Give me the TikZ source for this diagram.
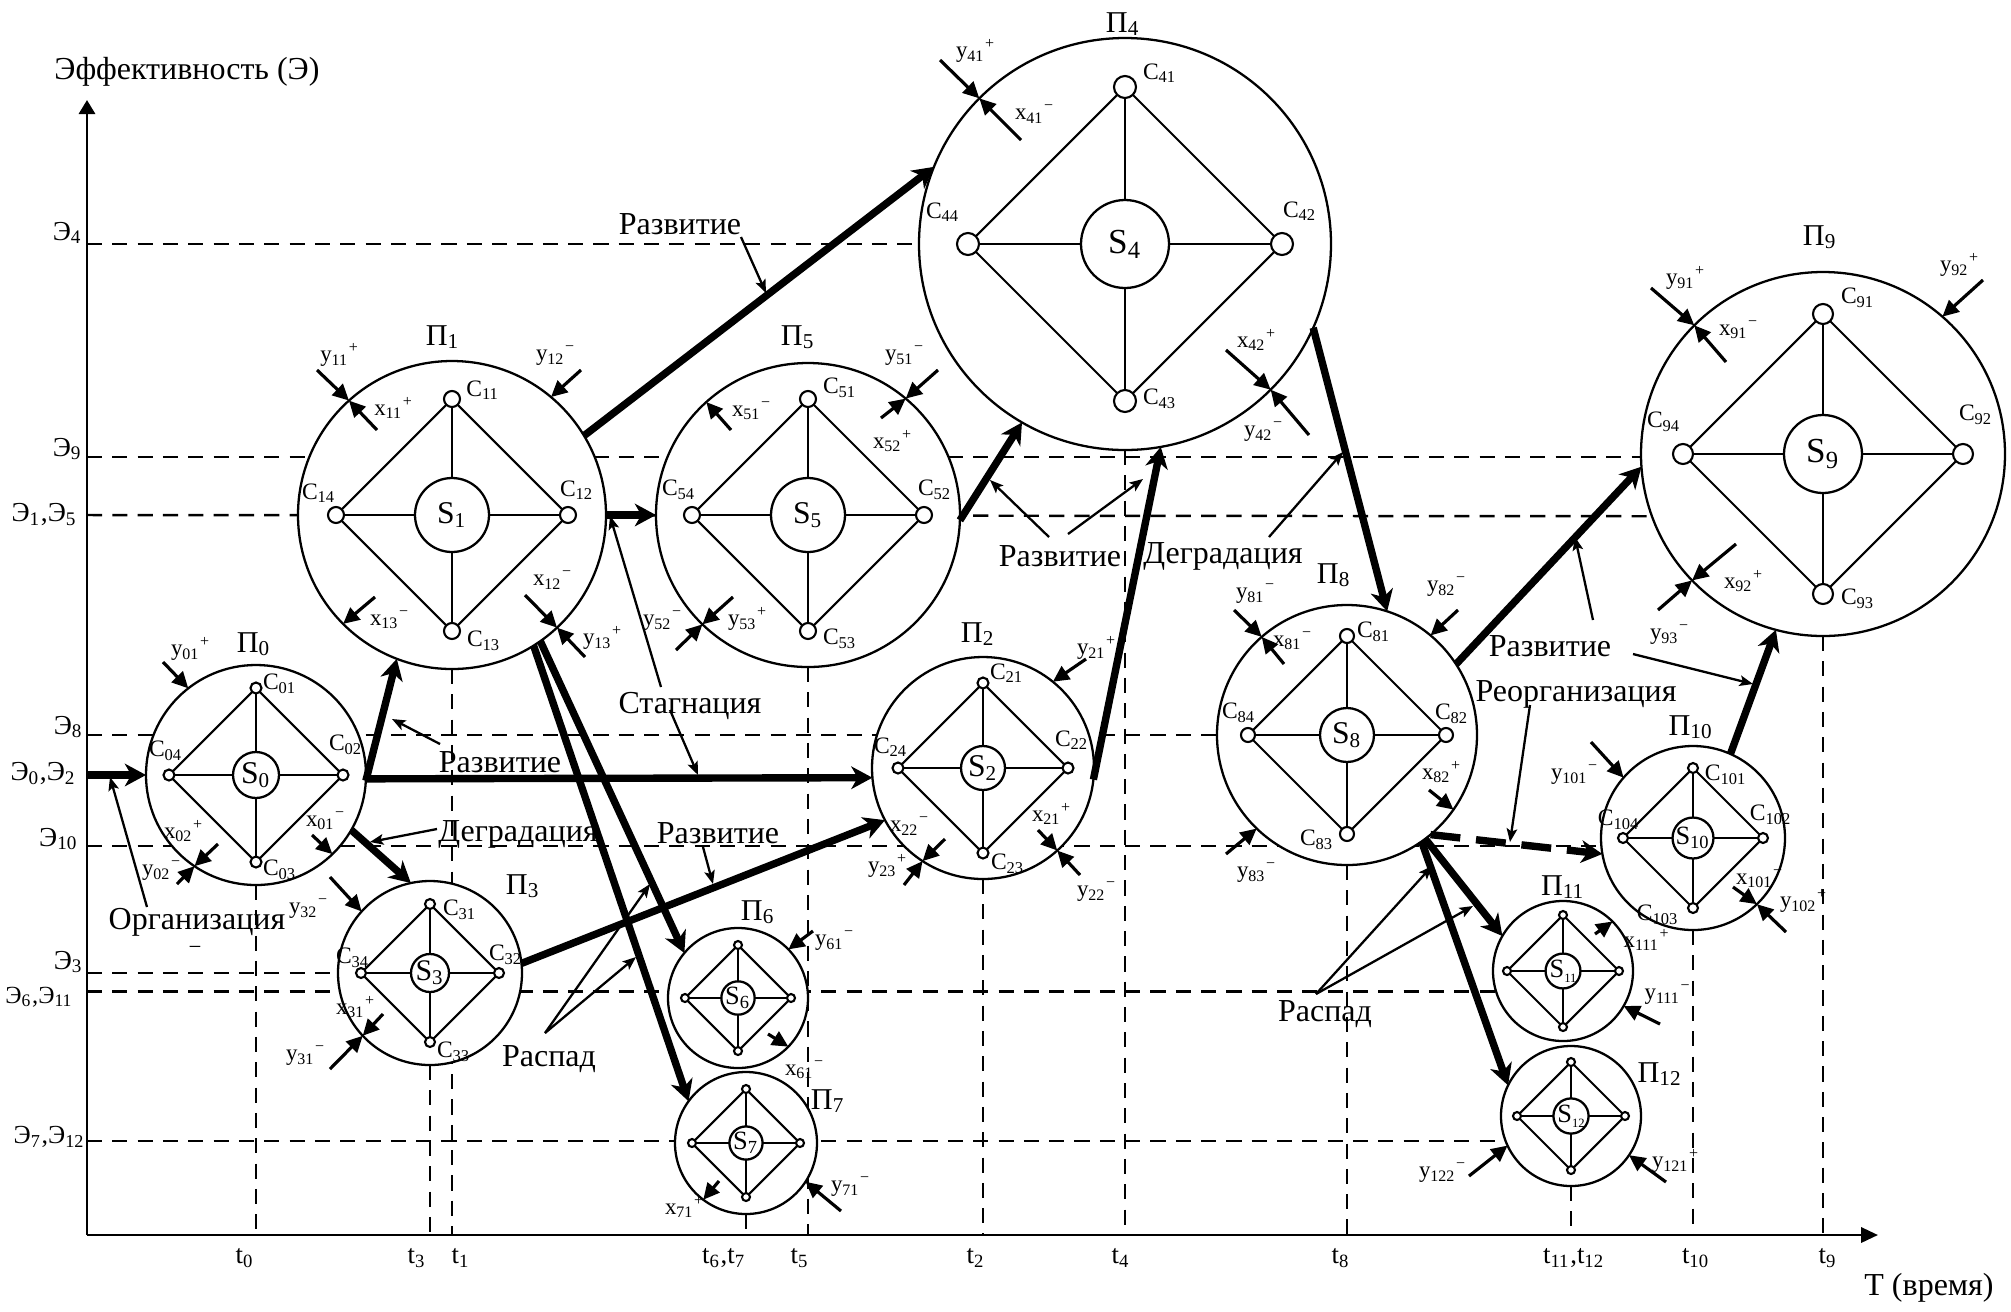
\documentclass[tikz,border=0pt]{standalone}
\usepackage{fontspec}
\setmainfont{Liberation Serif}
\usetikzlibrary{arrows.meta,backgrounds}
\newcommand\yx[3]{#1\textsubscript{#2}\textsuperscript{#3}}
\newcommand\tsub[1]{\raisebox{-0.4ex}{\fontsize{3.6}{4}\selectfont #1}}
\newcommand\psys[9]{%
  \node[pcirc,minimum size={2*#4*0.01cm}] (#1) at (#2,#3) {};
  \node[scirc,minimum size={2*#6*0.01cm},font={\fontsize{#9}{#9}\selectfont}] (#1s) at (#2,#3) {#8};
  \node[ncirc,minimum size={2*#7*0.01cm}] (#1a) at (#2,{#3-#5}) {};
  \node[ncirc,minimum size={2*#7*0.01cm}] (#1b) at ({#2+#5},#3) {};
  \node[ncirc,minimum size={2*#7*0.01cm}] (#1c) at (#2,{#3+#5}) {};
  \node[ncirc,minimum size={2*#7*0.01cm}] (#1d) at ({#2-#5},#3) {};
  \draw[thinl] (#1a) -- (#1b) -- (#1c) -- (#1d) -- (#1a);
  \draw[thinl] (#1a) -- (#1s) -- (#1c);
  \draw[thinl] (#1b) -- (#1s) -- (#1d);
}
\newcommand\ioa[3]{\coordinate (io#1) at (#2); \draw[ioarr] (io#1) -- (#3);}
\newcommand\pnt[3]{\coordinate (pa#1) at (#2); \coordinate (pb#1) at (#3); \draw[ptra] (pa#1) -- (pb#1);}
\begin{document}
\begin{tikzpicture}[x=0.01cm,y=-0.01cm,
  pcirc/.style={circle,draw,fill=white,line width=0.65pt,inner sep=0pt,outer sep=0pt},
  scirc/.style={circle,draw,fill=white,line width=0.65pt,inner sep=0pt,outer sep=0pt},
  ncirc/.style={circle,draw,fill=white,line width=0.6pt,inner sep=0pt,outer sep=0pt},
  thinl/.style={line width=0.6pt},
  grid/.style={line width=0.7pt,dash pattern=on 4.3pt off 2.9pt},
  axisl/.style={line width=0.8pt},
  trans/.style={line width=2.1pt,-{Stealth[length=6pt,width=6.4pt,inset=1.8pt]}},
  transd/.style={line width=2.1pt,dash pattern=on 8.5pt off 4.5pt,-{Stealth[length=6pt,width=6.4pt,inset=1.8pt]}},
  ptra/.style={line width=0.65pt,-{Stealth[length=3.8pt,width=3pt,inset=0.8pt]}},
  ioarr/.style={line width=0.9pt,-{Triangle[length=4.6pt,width=4.4pt]}},
  lab/.style={font=\fontsize{9.1}{11}\selectfont,inner sep=0pt},
  elab/.style={font=\fontsize{7.8}{9}\selectfont,inner sep=0pt},
  tlab/.style={font=\fontsize{7.6}{9}\selectfont,inner sep=0pt},
  plab/.style={font=\fontsize{8.6}{10}\selectfont,inner sep=0pt},
  clab/.style={font=\fontsize{6.7}{8}\selectfont,inner sep=0pt},
  xlab/.style={font=\fontsize{6.5}{8}\selectfont,inner sep=0pt},
]
\useasboundingbox (0,0) rectangle (2011,1311);

% ---------- systems ----------
\psys{P0}{256}{775}{110}{87}{23}{5.5}{S\textsubscript{0}}{9}
\psys{P1}{452}{515}{154}{116}{37}{8}{S\textsubscript{1}}{9}
\psys{P5}{808}{515}{152}{116}{37}{8}{S\textsubscript{5}}{9}
\psys{P4}{1125}{244}{206}{157}{44}{11}{S\textsubscript{4}}{10}
\psys{P9}{1823}{454}{182}{140}{39}{10}{S\textsubscript{9}}{10}
\psys{P2}{983}{768}{111}{85}{22}{5.5}{S\textsubscript{2}}{9}
\psys{P3}{430}{973}{92}{69}{19}{5}{S\textsubscript{3}}{8.5}
\psys{P6}{738}{998}{70}{53}{14}{4}{S\textsubscript{6}}{7.5}
\psys{P7}{746}{1143}{71}{54}{15}{4}{S\textsubscript{7}}{7.5}
\psys{P8}{1347}{735}{130}{99}{27}{7}{S\textsubscript{8}}{9}
\psys{P10}{1693}{838}{92}{70}{18}{5}{S\textsubscript{10}}{7.5}
\psys{P11}{1563}{971}{70}{56}{15}{4}{S\tsub{11}}{7.5}
\psys{P12}{1571}{1116}{70}{54}{14}{4}{S\tsub{12}}{7.5}

% ---------- axes ----------
\coordinate (O) at (87,1235);
\coordinate (yend) at (87,100);
\coordinate (xend) at (1878,1235);
\draw[axisl,-{Triangle[length=4pt,width=4.6pt]}] (O) -- (yend);
\draw[axisl,-{Triangle[length=4.8pt,width=4.3pt]}] (O) -- (xend);

% ---------- grid lines ----------
\begin{pgfonlayer}{background}
\draw[grid] (O |- P4.west) -- (P4.west);
\draw[grid] (O |- P9.181) -- (P9.181);
\draw[grid] (O |- P1.west) -- (P9.200);
\draw[grid] (O |- P8.west) -- (P8.west);
\draw[grid] (O |- P10.185) -- (P10.185);
\draw[grid] (O |- P3.west) -- (P3.west);
\draw[grid] (O |- P11.197) -- (P11.197);
\draw[grid] (O |- P12.201) -- (P12.201);
\draw[grid] (P0.south) -- (P0.south |- O);
\draw[grid] (P3.south) -- (P3.south |- O);
\draw[grid] (P1.south) -- (P1.south |- O);
\draw[grid] (P7.south) -- (P7.south |- O);
\draw[grid] (P5.south) -- (P5.south |- O);
\draw[grid] (P2.south) -- (P2.south |- O);
\draw[grid] (P4.south) -- (P4.south |- O);
\draw[grid] (P8.south) -- (P8.south |- O);
\draw[grid] (P12.south) -- (P12.south |- O);
\draw[grid] (P10.south) -- (P10.south |- O);
\draw[grid] (P9.south) -- (P9.south |- O);
\end{pgfonlayer}

% ---------- transitions ----------
\coordinate (e0) at (O |- P0.west);
\draw[trans] (e0) -- (P0.west);
\draw[trans] (P0.-3) -- (P1.249);
\draw[trans] (P0.-2) -- (P2.185);
\draw[trans] (P0.-30) -- (P3.102);
\draw[trans] (P1.east) -- (P5.west);
\draw[trans] (P1.31) -- (P4.158);
\draw[trans] (P1.-58) -- (P7.144);
\draw[trans] (P1.-55) -- (P6.140);
\draw[trans] (P3.6) -- (P2.208);
\draw[trans] (P5.-2) -- (P4.240);
\draw[trans] (P2.-6) -- (P4.-80);
\draw[trans] (P4.-24) -- (P8.72);
\draw[trans] (P8.33) -- (P9.184);
\draw[transd] (P8.-50) -- (P10.190);
\draw[trans] (P8.-53) -- (P11.150);
\draw[trans] (P8.-55) -- (P12.154);
\draw[trans] (P10.66) -- (P9.255);

% ---------- inputs / outputs ----------
\ioa{y01}{163,662}{P0.128}
\ioa{x02}{218,844}{P0.236}
\ioa{y02}{177,884}{P0.236}
\ioa{x01}{312,835}{P0.-46}
\ioa{y11}{317,370}{P1.132}
\ioa{x11}{377,430}{P1.132}
\ioa{y12}{581,370}{P1.50}
\ioa{x12}{525,595}{P1.-47}
\ioa{y13}{585,657}{P1.-47}
\ioa{x13}{375,597}{P1.225}
\ioa{x51}{731,430}{P5.132}
\ioa{y51}{938,370}{P5.50}
\ioa{x52}{881,418}{P5.50}
\ioa{y52}{676,650}{P5.226}
\ioa{y53}{733,597}{P5.226}
\ioa{y41}{940,60}{P4.135}
\ioa{x41}{1021,140}{P4.135}
\ioa{x42}{1226,350}{P4.-45}
\ioa{y42}{1309,435}{P4.-45}
\ioa{y91}{1651,288}{P9.135}
\ioa{x91}{1726,362}{P9.135}
\ioa{y92}{1983,280}{P9.49}
\ioa{x92}{1736,544}{P9.224}
\ioa{y93}{1658,610}{P9.224}
\ioa{y21}{1086,659}{P2.51}
\ioa{x22}{945,839}{P2.237}
\ioa{y23}{904,885}{P2.237}
\ioa{x21}{1038,830}{P2.-48}
\ioa{y22}{1080,875}{P2.-48}
\ioa{y32}{330,877}{P3.138}
\ioa{x31}{383,1014}{P3.223}
\ioa{y31}{330,1069}{P3.223}
\ioa{y61}{813,931}{P6.44}
\ioa{x61}{768,1034}{P6.-44}
\ioa{y71}{841,1211}{P7.-33}
\ioa{x71}{719,1181}{P7.233}
\ioa{y81}{1234,610}{P8.131}
\ioa{x81}{1284,664}{P8.131}
\ioa{y82}{1458,610}{P8.50}
\ioa{x82}{1429,790}{P8.-35}
\ioa{y83}{1226,854}{P8.226}
\ioa{y101}{1591,742}{P10.139}
\ioa{x101}{1733,887}{P10.-46}
\ioa{y102}{1786,932}{P10.-46}
\ioa{x111}{1595,934}{P11.45}
\ioa{y111}{1660,1024}{P11.-30}
\ioa{y121}{1666,1182}{P12.-34}
\ioa{y122}{1469,1176}{P12.205}

% ---------- pointers ----------
\pnt{1}{741,237}{766,293}
\pnt{2}{440,744}{392,719}
\pnt{3}{147,907}{110,777}
\pnt{4}{437,829}{370,842}
\pnt{5}{661,687}{610,516}
\pnt{6}{670,710}{698,775}
\pnt{7}{703,847}{713,884}
\pnt{8}{545,1033}{650,884}
\pnt{9}{545,1033}{636,957}
\pnt{10}{1049,537}{990,480}
\pnt{11}{1068,534}{1143,479}
\pnt{12}{1269,537}{1343,452}
\pnt{13}{1593,620}{1575,537}
\pnt{14}{1633,654}{1753,684}
\pnt{15}{1530,705}{1510,842}
\pnt{16}{1316,994}{1432,866}
\pnt{17}{1316,994}{1473,906}

% ---------- main labels ----------
\node[lab] (tY) at (187,72) {Эффективность (Э)};
\node[lab] (tX) at (1929,1288) {T (время)};
\node[lab] (lR1) at (680,224) {Развитие};
\node[lab] (lR2) at (500,762) {Развитие};
\node[lab] (lOrg) at (197,922) {Организация};
\node[lab] (lD1) at (518,834) {Деградация};
\node[lab] (lSt) at (690,706) {Стагнация};
\node[lab] (lR3) at (718,833) {Развитие};
\node[lab] (lRa1) at (549,1059) {Распад};
\node[lab] (lR4) at (1060,556) {Развитие};
\node[lab] (lD2) at (1223,556) {Деградация};
\node[lab] (lR5) at (1550,646) {Развитие};
\node[lab] (lReo) at (1576,694) {Реорганизация};
\node[lab] (lRa2) at (1325,1014) {Распад};
\node[xlab] (stray) at (195,950) {−};

% ---------- axis labels ----------
\node[elab,anchor=east] (E4) at (83,233) {Э\textsubscript{4}};
\node[elab,anchor=east] (E9) at (83,449) {Э\textsubscript{9}};
\node[elab,anchor=east] (E15) at (78,515) {Э\textsubscript{1},Э\textsubscript{5}};
\node[elab,anchor=east] (E8) at (84,727) {Э\textsubscript{8}};
\node[elab,anchor=east] (E02) at (77,774) {Э\textsubscript{0},Э\textsubscript{2}};
\node[elab,anchor=east] (E10) at (79,839) {Э\textsubscript{10}};
\node[elab,anchor=east] (E3) at (84,962) {Э\textsubscript{3}};
\node[elab,anchor=east,font=\fontsize{7}{8}\selectfont] (E611) at (74,997) {Э\textsubscript{6},Э\textsubscript{11}};
\node[elab,anchor=east,font=\fontsize{7.4}{8}\selectfont] (E712) at (86,1137) {Э\textsubscript{7},Э\textsubscript{12}};

\node[tlab] (t0) at (245,1258) {t\textsubscript{0}};
\node[tlab] (t3) at (417,1258) {t\textsubscript{3}};
\node[tlab] (t1) at (461,1258) {t\textsubscript{1}};
\node[tlab] (t67) at (724,1258) {t\textsubscript{6},t\textsubscript{7}};
\node[tlab] (t5) at (800,1258) {t\textsubscript{5}};
\node[tlab] (t2) at (976,1258) {t\textsubscript{2}};
\node[tlab] (t4) at (1121,1258) {t\textsubscript{4}};
\node[tlab] (t8) at (1341,1258) {t\textsubscript{8}};
\node[tlab] (t1112) at (1574,1258) {t\textsubscript{11},t\textsubscript{12}};
\node[tlab] (t10) at (1696,1258) {t\textsubscript{10}};
\node[tlab] (t9) at (1828,1258) {t\textsubscript{9}};

% ---------- P labels ----------
\node[plab] (lP0) at (254,644) {П\textsubscript{0}};
\node[plab] (lP1) at (443,337) {П\textsubscript{1}};
\node[plab] (lP5) at (798,337) {П\textsubscript{5}};
\node[plab] (lP4) at (1123,24) {П\textsubscript{4}};
\node[plab] (lP9) at (1820,237) {П\textsubscript{9}};
\node[plab] (lP2) at (978,634) {П\textsubscript{2}};
\node[plab] (lP3) at (523,886) {П\textsubscript{3}};
\node[plab] (lP6) at (758,912) {П\textsubscript{6}};
\node[plab] (lP7) at (828,1101) {П\textsubscript{7}};
\node[plab] (lP8) at (1334,575) {П\textsubscript{8}};
\node[plab] (lP10) at (1691,727) {П\textsubscript{10}};
\node[plab] (lP11) at (1563,887) {П\textsubscript{11}};
\node[plab] (lP12) at (1660,1074) {П\textsubscript{12}};

% ---------- C labels ----------
\node[clab] (c01) at (280,684) {C\textsubscript{01}};
\node[clab] (c02) at (346,745) {C\textsubscript{02}};
\node[clab] (c03) at (280,870) {C\textsubscript{03}};
\node[clab] (c04) at (166,751) {C\textsubscript{04}};
\node[clab] (c11) at (483,390) {C\textsubscript{11}};
\node[clab] (c12) at (577,490) {C\textsubscript{12}};
\node[clab] (c13) at (484,641) {C\textsubscript{13}};
\node[clab] (c14) at (319,493) {C\textsubscript{14}};
\node[clab] (c51) at (840,388) {C\textsubscript{51}};
\node[clab] (c52) at (935,490) {C\textsubscript{52}};
\node[clab] (c53) at (840,639) {C\textsubscript{53}};
\node[clab] (c54) at (679,490) {C\textsubscript{54}};
\node[clab] (c41) at (1160,73) {C\textsubscript{41}};
\node[clab] (c42) at (1300,211) {C\textsubscript{42}};
\node[clab] (c43) at (1160,399) {C\textsubscript{43}};
\node[clab] (c44) at (943,212) {C\textsubscript{44}};
\node[clab] (c91) at (1858,298) {C\textsubscript{91}};
\node[clab] (c92) at (1976,415) {C\textsubscript{92}};
\node[clab] (c93) at (1858,599) {C\textsubscript{93}};
\node[clab] (c94) at (1664,422) {C\textsubscript{94}};
\node[clab] (c21) at (1007,673) {C\textsubscript{21}};
\node[clab] (c22) at (1072,740) {C\textsubscript{22}};
\node[clab] (c23) at (1008,864) {C\textsubscript{23}};
\node[clab] (c24) at (891,747) {C\textsubscript{24}};
\node[clab] (c31) at (460,910) {C\textsubscript{31}};
\node[clab] (c32) at (506,955) {C\textsubscript{32}};
\node[clab] (c33) at (454,1052) {C\textsubscript{33}};
\node[clab] (c34) at (353,958) {C\textsubscript{34}};
\node[clab] (c81) at (1374,632) {C\textsubscript{81}};
\node[clab] (c82) at (1452,714) {C\textsubscript{82}};
\node[clab] (c83) at (1317,840) {C\textsubscript{83}};
\node[clab] (c84) at (1239,713) {C\textsubscript{84}};
\node[clab] (c101) at (1726,775) {C\textsubscript{101}};
\node[clab] (c102) at (1771,815) {C\textsubscript{102}};
\node[clab] (c103) at (1658,915) {C\textsubscript{103}};
\node[clab] (c104) at (1619,820) {C\textsubscript{104}};

% ---------- x / y labels ----------
\node[xlab] (ly01) at (191,649) {\yx{y}{01}{+}};
\node[xlab] (lx02) at (184,831) {\yx{x}{02}{+}};
\node[xlab] (ly02) at (162,871) {\yx{y}{02}{−}};
\node[xlab] (lx01) at (326,821) {\yx{x}{01}{−}};
\node[xlab] (ly11) at (340,355) {\yx{y}{11}{+}};
\node[xlab] (lx11) at (394,408) {\yx{x}{11}{+}};
\node[xlab] (ly12) at (556,356) {\yx{y}{12}{−}};
\node[xlab] (lx12) at (553,580) {\yx{x}{12}{−}};
\node[xlab] (ly13) at (603,638) {\yx{y}{13}{+}};
\node[xlab] (lx13) at (390,620) {\yx{x}{13}{−}};
\node[xlab] (lx51) at (752,411) {\yx{x}{51}{−}};
\node[xlab] (ly51) at (905,356) {\yx{y}{51}{−}};
\node[xlab] (lx52) at (893,441) {\yx{x}{52}{+}};
\node[xlab] (ly52) at (663,621) {\yx{y}{52}{−}};
\node[xlab] (ly53) at (748,619) {\yx{y}{53}{+}};
\node[xlab] (ly41) at (976,51) {\yx{y}{41}{+}};
\node[xlab] (lx41) at (1035,114) {\yx{x}{41}{−}};
\node[xlab] (lx42) at (1257,340) {\yx{x}{42}{+}};
\node[xlab] (ly42) at (1264,432) {\yx{y}{42}{−}};
\node[xlab] (ly91) at (1686,278) {\yx{y}{91}{+}};
\node[xlab] (lx91) at (1739,330) {\yx{x}{91}{−}};
\node[xlab] (ly92) at (1960,265) {\yx{y}{92}{+}};
\node[xlab] (lx92) at (1744,581) {\yx{x}{92}{+}};
\node[xlab] (ly93) at (1670,635) {\yx{y}{93}{−}};
\node[xlab] (ly21) at (1097,648) {\yx{y}{21}{+}};
\node[xlab] (lx22) at (910,826) {\yx{x}{22}{−}};
\node[xlab] (ly23) at (888,866) {\yx{y}{23}{+}};
\node[xlab] (lx21) at (1052,814) {\yx{x}{21}{+}};
\node[xlab] (ly22) at (1097,892) {\yx{y}{22}{−}};
\node[xlab] (ly32) at (309,909) {\yx{y}{32}{−}};
\node[xlab] (lx31) at (356,1007) {\yx{x}{31}{+}};
\node[xlab] (ly31) at (306,1056) {\yx{y}{31}{−}};
\node[xlab] (ly61) at (835,941) {\yx{y}{61}{−}};
\node[xlab] (lx61) at (805,1070) {\yx{x}{61}{−}};
\node[xlab] (ly71) at (851,1187) {\yx{y}{71}{−}};
\node[xlab] (lx71) at (685,1207) {\yx{x}{71}{+}};
\node[xlab] (ly81) at (1256,594) {\yx{y}{81}{−}};
\node[xlab] (lx81) at (1293,641) {\yx{x}{81}{−}};
\node[xlab] (ly82) at (1447,587) {\yx{y}{82}{−}};
\node[xlab] (lx82) at (1442,772) {\yx{x}{82}{+}};
\node[xlab] (ly83) at (1257,873) {\yx{y}{83}{−}};
\node[xlab] (ly101) at (1575,775) {\yx{y}{101}{−}};
\node[xlab] (lx101) at (1760,879) {\yx{x}{101}{−}};
\node[xlab] (ly102) at (1804,901) {\yx{y}{102}{+}};
\node[xlab] (lx111) at (1647,940) {\yx{x}{111}{+}};
\node[xlab] (ly111) at (1668,995) {\yx{y}{111}{−}};
\node[xlab] (ly121) at (1676,1161) {\yx{y}{121}{+}};
\node[xlab] (ly122) at (1443,1173) {\yx{y}{122}{−}};
\end{tikzpicture}
\end{document}
